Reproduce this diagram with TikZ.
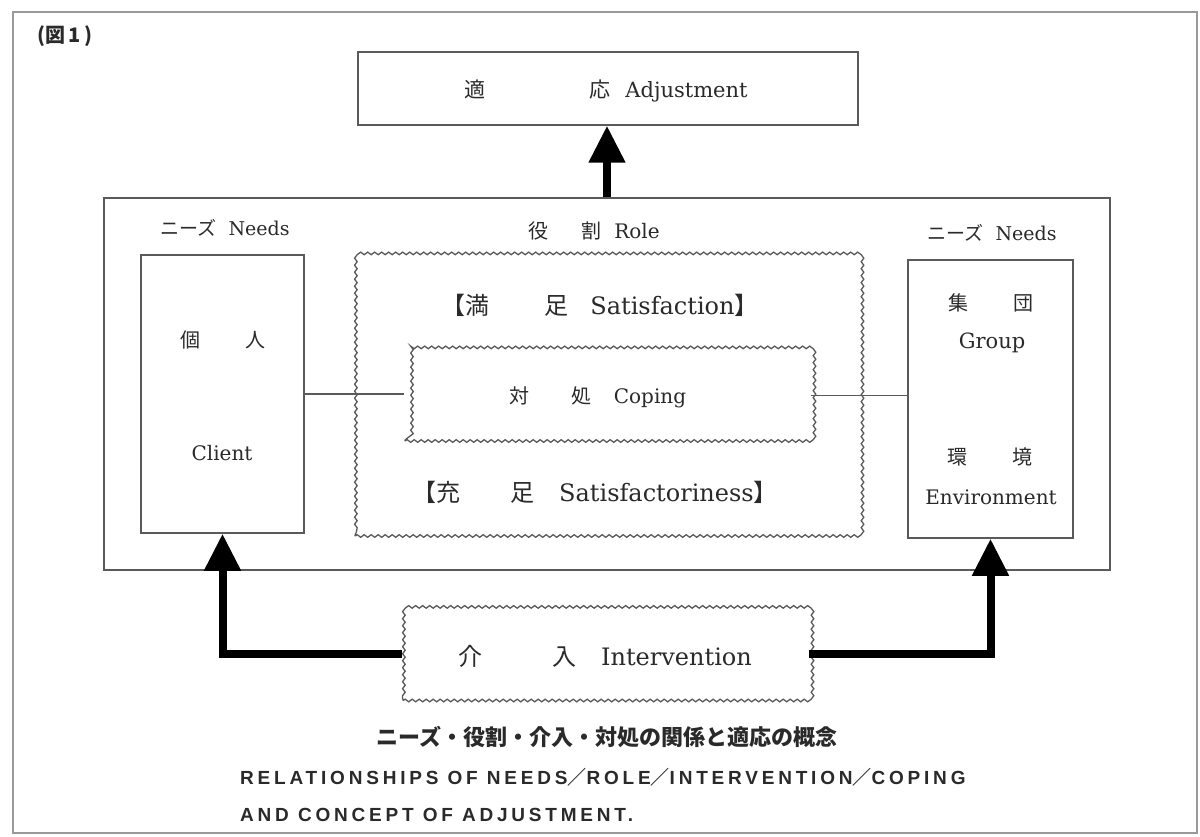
\documentclass[tikz,border=0pt]{standalone}
\usepackage{fontspec}
\setmainfont{DejaVu Serif}
\newfontfamily\cjk{Noto Sans CJK JP}
\newfontfamily\capfont[LetterSpace=20]{Liberation Sans}
\usetikzlibrary{arrows.meta,decorations.pathmorphing}
\newcommand\jp[1]{{\cjk #1}}
\definecolor{ink}{HTML}{2A2A2A}
\definecolor{frame}{HTML}{5A5A5A}
\tikzset{
  box/.style={draw=frame, line width=1.5pt, inner sep=0pt},
  wavybox/.style={draw=frame, line width=1.3pt, inner sep=0pt, decorate,
    decoration={snake, amplitude=1.3pt, segment length=7pt}},
  lbl/.style={text=ink, inner sep=0pt, font=\fontsize{20}{24}\selectfont},
  thin/.style={draw=frame, line width=1.3pt},
  bigarrow/.style={line width=8pt, line join=miter, line cap=butt,
    -{Triangle[width=35pt,length=37pt]}},
}
\begin{document}
\begin{tikzpicture}[x=1pt,y=-1pt]
\useasboundingbox (0,0) rectangle (1200,837);
\fill[white] (0,0) rectangle (1200,837);
% outer frame
\draw[draw=gray!80, line width=2pt] (13,12) rectangle (1197,833);

% boxes
\node[box, minimum width=500pt, minimum height=73pt] (adj) at (608,88.5) {};
\node[box, minimum width=1006pt, minimum height=372pt] (big) at (607,384) {};
\node[box, minimum width=163pt, minimum height=278pt] (client) at (222.5,394) {};
\node[box, minimum width=165pt, minimum height=278pt] (env) at (990.5,399) {};
\node[wavybox, minimum width=505pt, minimum height=278pt] (role) at (607.5,397) {};
\node[wavybox, minimum width=405pt, minimum height=91pt] (coping) at (607.5,395.5) {};
\node[wavybox, minimum width=405pt, minimum height=93pt] (interv) at (605.5,654) {};

% connectors
\draw[bigarrow] (big.north) -- (big.north |- adj.south);
\draw[bigarrow] (interv.west) -| (client.south);
\draw[bigarrow] (interv.east) -| (env.south);
\draw[thin] (client.east) -- (client.east -| coping.west);
\draw[thin] (coping.east) -- (coping.east -| env.west);

% labels
\node[lbl, anchor=west, font=\fontsize{20}{22}\selectfont\bfseries] (fig) at (37,36) {\jp{(図\,1\,)}};
\node[lbl, font=\fontsize{21}{24}\selectfont] (adjt) at (606,91) {\jp{適}\hspace{104pt}\jp{応}\hspace{15pt}Adjustment};
\node[lbl, font=\fontsize{19}{22}\selectfont] (needl) at (225,228) {\jp{ニーズ}\hspace{12pt}Needs};
\node[lbl, font=\fontsize{19}{22}\selectfont] (needr) at (992,233) {\jp{ニーズ}\hspace{12pt}Needs};
\node[lbl, font=\fontsize{20}{22}\selectfont] (rolet) at (594,231) {\jp{役}\hspace{33pt}\jp{割}\hspace{13pt}Role};
\node[lbl, font=\fontsize{24}{26}\selectfont] (satis) at (600,305) {\jp{【満}\hspace{55pt}\jp{足}\hspace{22pt}Satisfaction\jp{】}};
\node[lbl, font=\fontsize{24}{26}\selectfont] (satisf) at (595,492) {\jp{【充}\hspace{50pt}\jp{足}\hspace{25pt}Satisfactoriness\jp{】}};
\node[lbl, font=\fontsize{20}{22}\selectfont] (copt) at (598,397) {\jp{対}\hspace{42pt}\jp{処}\hspace{22pt}Coping};
\node[lbl, font=\fontsize{24}{26}\selectfont] (intt) at (605,656) {\jp{介}\hspace{70pt}\jp{入}\hspace{25pt}Intervention};
\node[lbl] (kojin) at (223,340) {\jp{個}\hspace{45pt}\jp{人}};
\node[lbl] (clientt) at (222,453) {Client};
\node[lbl] (shudan) at (991,303) {\jp{集}\hspace{45pt}\jp{団}};
\node[lbl, font=\fontsize{21}{24}\selectfont] (group) at (992,343) {Group};
\node[lbl] (kankyo) at (990,457) {\jp{環}\hspace{45pt}\jp{境}};
\node[lbl] (envt) at (991,497) {Environment};

% captions
\node[lbl, font=\fontsize{22}{24}\selectfont\bfseries] (cap1) at (607,737) {\jp{ニーズ・役割・介入・対処の関係と適応の概念}};
\node[lbl, anchor=west, font=\fontsize{19}{22}\selectfont\capfont\bfseries] (cap2) at (240,777) {RELATIONSHIPS OF NEEDS\jp{／}ROLE\jp{／}INTERVENTION\jp{／}COPING};
\node[lbl, anchor=west, font=\fontsize{19}{22}\selectfont\capfont\bfseries] (cap3) at (240,815) {AND CONCEPT OF ADJUSTMENT.};
\end{tikzpicture}
\end{document}
